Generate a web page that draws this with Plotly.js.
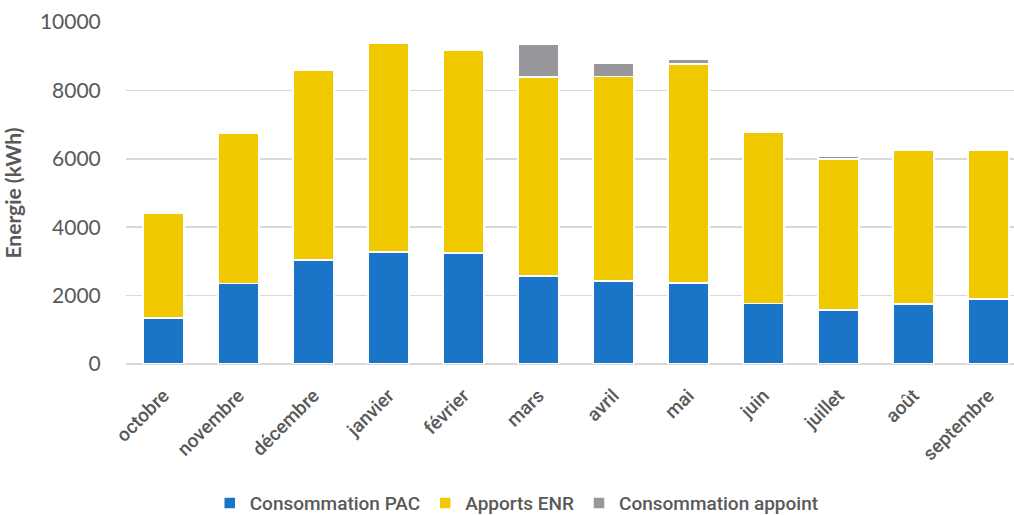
<!DOCTYPE html>
<html>
<head>
<meta charset="utf-8">
<script src="https://cdn.plot.ly/plotly-3.0.1.min.js"></script>
<style>html,body{margin:0;padding:0;background:#fff;}#chart{width:1014px;height:515px;}</style>
</head>
<body>
<div id="chart"></div>
<script>
const months = ["octobre","novembre","décembre","janvier","février","mars","avril","mai","juin","juillet","août","septembre"];
const consoPAC = [1350, 2355, 3045, 3275, 3245, 2570, 2420, 2365, 1770, 1585, 1760, 1895];
const apportsENR = [3070, 4400, 5555, 6110, 5925, 5815, 5985, 6410, 5015, 4405, 4495, 4350];
const consoAppoint = [0, 0, 0, 0, 0, 970, 380, 150, 0, 80, 0, 0];
const yTicks = [0, 2000, 4000, 6000, 8000, 10000];
const yTickText = ["0", "2000", "4000", "6000", "8000", "10000"];

const COND = 'Roboto, "Noto Sans", sans-serif';
const CAL = 'Lato, "Noto Sans", sans-serif';
const line = {color: '#ffffff', width: 1.5};

const traces = [
  {type: 'bar', name: 'Consommation PAC', x: months, y: consoPAC, marker: {color: '#1A75C8', line: line}},
  {type: 'bar', name: 'Apports ENR', x: months, y: apportsENR, marker: {color: '#F0C900', line: line}},
  {type: 'bar', name: 'Consommation appoint', x: months, y: consoAppoint, marker: {color: '#98979C', line: line}}
];

const layout = {
  width: 1014, height: 515,
  margin: {l: 126, r: 0, t: 22, b: 151, autoexpand: false},
  barmode: 'stack',
  bargap: 0.45,
  paper_bgcolor: '#fff', plot_bgcolor: '#fff',
  font: {family: COND, color: '#595959', size: 19},
  showlegend: true,
  legend: {orientation: 'h', x: 0.44, xanchor: 'center', y: -0.407, yanchor: 'middle',
           font: {family: COND, size: 19, color: '#595959', weight: 500}, itemwidth: 30, traceorder: 'normal'},
  xaxis: {
    type: 'category', range: [-0.5, 11.34], tickangle: -45,
    showgrid: false, showline: false, zeroline: false,
    ticks: 'outside', ticklen: 12, tickcolor: 'rgba(0,0,0,0)',
    tickfont: {family: COND, size: 19, color: '#595959', weight: 500}, automargin: false
  },
  yaxis: {
    range: [0, 10000], tickvals: yTicks, ticktext: yTickText,
    showgrid: true, gridcolor: '#D9D9D9', gridwidth: 1.5,
    zeroline: true, zerolinecolor: '#D9D9D9', zerolinewidth: 2,
    showline: false, ticks: 'outside', ticklen: 20, tickcolor: 'rgba(0,0,0,0)',
    tickfont: {family: CAL, size: 21, color: '#595959'},
    title: {text: 'Energie (kWh)', font: {family: CAL, size: 21, color: '#595959', weight: 'bold'}, standoff: 14},
    automargin: false
  }
};

Plotly.newPlot('chart', traces, layout, {displayModeBar: false, staticPlot: true});
</script>
</body>
</html>
